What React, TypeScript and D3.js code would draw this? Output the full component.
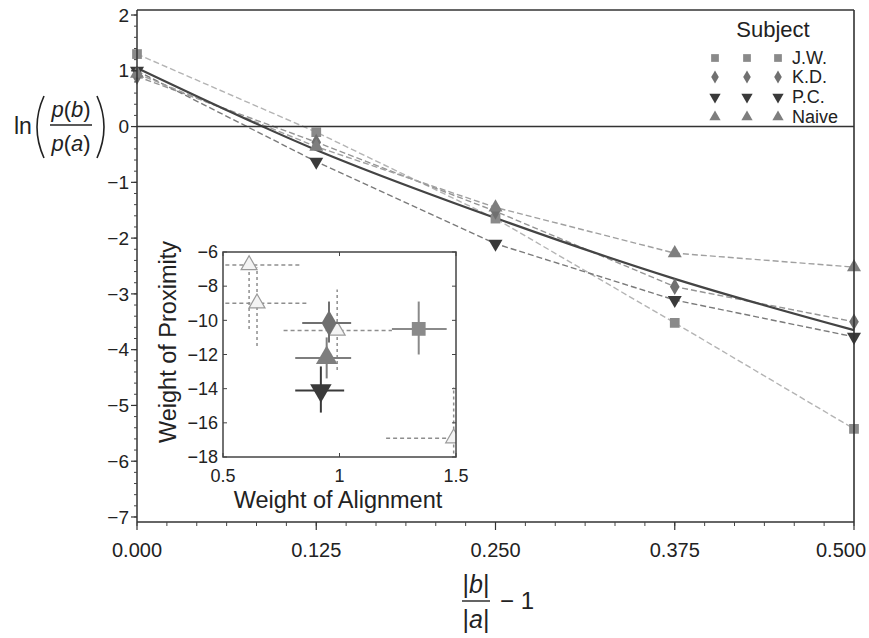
import React from "react";
import * as d3 from "d3";

// ---------- Data ----------
const xValues = [0, 0.125, 0.25, 0.375, 0.5];
const subjects = ["J.W.", "K.D.", "P.C.", "Naive"];
const jwValues = [1.3, -0.1, -1.65, -3.52, -5.42];
const kdValues = [0.9, -0.28, -1.52, -2.87, -3.5];
const pcValues = [1.0, -0.63, -2.1, -3.11, -3.77];
const naiveValues = [0.95, -0.36, -1.45, -2.27, -2.52];
const fitValues = [1.05, -0.42, -1.64, -2.73, -3.65];

const xTicks = [0, 0.125, 0.25, 0.375, 0.5];
const yTicks = [2, 1, 0, -1, -2, -3, -4, -5, -6, -7];

// inset (filled markers = subjects)
const insetAlign = [1.34, 0.955, 0.92, 0.945];
const insetProx = [-10.5, -10.16, -14.1, -12.2];
const insetAlignLo = [1.225, 0.84, 0.81, 0.81];
const insetAlignHi = [1.46, 1.05, 1.02, 1.05];
const insetProxLo = [-12.0, -11.3, -15.4, -13.4];
const insetProxHi = [-8.9, -8.9, -12.7, -11.0];

// inset open markers (dotted error bars)
const openAlign = [0.612, 0.646, 0.99, 1.49];
const openProx = [-6.76, -9.0, -10.6, -16.9];
const openAlignLo = [0.45, 0.45, 0.76, 1.2];
const openAlignHi = [0.84, 0.87, 1.225, 1.55];
const openProxLo = [-10.5, -11.5, -12.9, -18.5];
const openProxHi = [-6.4, -6.9, -8.2, -13.9];

const insetXTicks = [0.5, 1, 1.5];
const insetYTicks = [-6, -8, -10, -12, -14, -16, -18];

// ---------- Styles ----------
const FONT = "'Liberation Sans', Arial, Helvetica, sans-serif";
const markerColor = ["#8a8a8a", "#707070", "#3a3a3a", "#7e7e7e"];
const lineColor = ["#b4b4b4", "#959595", "#7a7a7a", "#a0a0a0"];
const symbolTypes = [d3.symbolSquare, d3.symbolDiamond, d3.symbolTriangle, d3.symbolTriangle];
const rotations = [0, 0, 180, 0];

const fmtNum = (v: number) => (v < 0 ? "\u2212" + Math.abs(v) : String(v));

export default function App() {
  const W = 869, H = 638;
  const x = d3.scaleLinear().domain([0, 0.5]).range([137, 854]);
  const y = d3.scaleLinear().domain([-7.09, 2.09]).range([522, 10]);
  const [x0, x1] = x.range();
  const [yb, yt] = y.range();

  const series = [jwValues, kdValues, pcValues, naiveValues];
  const line = d3.line<number>().x((_, i) => x(xValues[i])).y((d) => y(d));
  const fitLine = d3
    .line<number>()
    .x((_, i) => x(xValues[i]))
    .y((d) => y(d))
    .curve(d3.curveMonotoneX);

  const sym = (i: number, size: number) => d3.symbol().type(symbolTypes[i]).size(size)()!;
  const mainSizes = [95, 80, 85, 85];
  const legendSizes = [60, 50, 55, 55];
  const insetSizes = [190, 190, 200, 200];

  const yMinor = d3.range(-7, 2.001, 0.2);
  const xMinor = d3.range(0, 0.5001, 0.125 / 6);

  // inset scales
  const ix = d3.scaleLinear().domain([0.5, 1.5]).range([223, 456]);
  const iy = d3.scaleLinear().domain([-18, -6]).range([457, 252]);
  const [ix0, ix1] = ix.range();
  const [iyb, iyt] = iy.range();

  const legendX = [715, 747, 778];
  const legendY = [58, 77, 97, 117];

  return (
    <svg
      width={W}
      height={H}
      style={{ position: "absolute", left: 0, top: 0, background: "#fff" }}
      fontFamily={FONT}
    >
      <rect x={0} y={0} width={W} height={H} fill="#fff" />

      {/* main series dashed lines */}
      {series.map((s, i) => (
        <path
          key={"l" + i}
          d={line(s)!}
          fill="none"
          stroke={lineColor[i]}
          strokeWidth={1.4}
          strokeDasharray="6,3"
        />
      ))}
      {/* fit solid line */}
      <path d={fitLine(fitValues)!} fill="none" stroke="#444" strokeWidth={2.2} />

      {/* zero line */}
      <line x1={x0} x2={x1} y1={y(0)} y2={y(0)} stroke="#333" strokeWidth={1.6} />

      {/* markers */}
      {series.map((s, i) =>
        s.map((v, j) => (
          <path
            key={"m" + i + "-" + j}
            d={sym(i, mainSizes[i])}
            transform={`translate(${x(xValues[j])},${y(v)}) rotate(${rotations[i]})`}
            fill={markerColor[i]}
          />
        ))
      )}

      {/* frame */}
      <line x1={x0} x2={x1} y1={yt} y2={yt} stroke="#333" strokeWidth={1.5} />
      <line x1={x1} x2={x1} y1={yt} y2={yb} stroke="#333" strokeWidth={1.6} />
      <line x1={x0} x2={x0} y1={yt} y2={yb} stroke="#333" strokeWidth={1.5} />
      <line x1={x0} x2={x1} y1={yb} y2={yb} stroke="#333" strokeWidth={1.5} />

      {/* y ticks */}
      {yMinor.map((v, i) => (
        <line key={"ym" + i} x1={x0 - 3} x2={x0} y1={y(v)} y2={y(v)} stroke="#444" strokeWidth={1} />
      ))}
      {yTicks.map((v) => (
        <g key={"yt" + v}>
          <line x1={x0 - 6} x2={x0} y1={y(v)} y2={y(v)} stroke="#333" strokeWidth={1.2} />
          <text x={x0 - 8} y={y(v)} dy="0.35em" textAnchor="end" fontSize={19} fill="#222">
            {fmtNum(v)}
          </text>
        </g>
      ))}

      {/* x ticks */}
      {xMinor.map((v, i) => (
        <line key={"xm" + i} x1={x(v)} x2={x(v)} y1={yb} y2={yb + 4} stroke="#444" strokeWidth={1} />
      ))}
      {xTicks.map((v) => (
        <g key={"xt" + v}>
          <line x1={x(v)} x2={x(v)} y1={yb} y2={yb + 8} stroke="#333" strokeWidth={1.2} />
          <text
            x={Math.min(x(v), W - 28)}
            y={557}
            textAnchor="middle"
            fontSize={20}
            fill="#222"
          >
            {d3.format(".3f")(v)}
          </text>
        </g>
      ))}

      {/* y axis label: ln( p(b)/p(a) ) */}
      <text x={14} y={134} fontSize={23} fill="#222">ln</text>
      <path d="M44,96 Q30,127 44,158" fill="none" stroke="#222" strokeWidth={1.6} />
      <path d="M97,96 Q111,127 97,158" fill="none" stroke="#222" strokeWidth={1.6} />
      <text x={71} y={117} textAnchor="middle" fontSize={22} fill="#222">
        <tspan fontStyle="italic">p</tspan>(<tspan fontStyle="italic">b</tspan>)
      </text>
      <line x1={50} x2={92} y1={125} y2={125} stroke="#222" strokeWidth={1.4} />
      <text x={71} y={151} textAnchor="middle" fontSize={22} fill="#222">
        <tspan fontStyle="italic">p</tspan>(<tspan fontStyle="italic">a</tspan>)
      </text>

      {/* x axis label: |b|/|a| - 1 */}
      <text x={476} y={593} textAnchor="middle" fontSize={25} fill="#222">
        |<tspan fontStyle="italic">b</tspan>|
      </text>
      <line x1={462} x2={490} y1={601} y2={601} stroke="#222" strokeWidth={1.4} />
      <text x={476} y={628} textAnchor="middle" fontSize={25} fill="#222">
        |<tspan fontStyle="italic">a</tspan>|
      </text>
      <text x={500} y={609} fontSize={24} fill="#222">{"\u2212 1"}</text>

      {/* legend */}
      <text x={773} y={37} textAnchor="middle" fontSize={22} fill="#222">Subject</text>
      {subjects.map((s, i) => (
        <g key={"lg" + i}>
          {legendX.map((lx, k) => (
            <path
              key={k}
              d={sym(i, legendSizes[i])}
              transform={`translate(${lx},${legendY[i]}) rotate(${rotations[i]})`}
              fill={markerColor[i]}
            />
          ))}
          <text x={792} y={legendY[i]} dy="0.36em" fontSize={18} fill="#222">
            {s}
          </text>
        </g>
      ))}

      {/* ---------- inset ---------- */}
      <defs>
        <clipPath id="insetClip">
          <rect x={ix0} y={iyt} width={ix1 - ix0} height={iyb - iyt} />
        </clipPath>
      </defs>
      <g clipPath="url(#insetClip)">
        {openAlign.map((a, i) => (
          <g key={"o" + i}>
            <line
              x1={ix(openAlignLo[i])}
              x2={ix(openAlignHi[i])}
              y1={iy(openProx[i])}
              y2={iy(openProx[i])}
              stroke="#8e8e8e"
              strokeWidth={1.5}
              strokeDasharray="4,3"
            />
            <line
              x1={ix(a)}
              x2={ix(a)}
              y1={iy(openProxLo[i])}
              y2={iy(openProxHi[i])}
              stroke="#8e8e8e"
              strokeWidth={1.5}
              strokeDasharray="3,3"
            />
            <path
              d={d3.symbol().type(d3.symbolTriangle).size(110)()!}
              transform={`translate(${ix(a)},${iy(openProx[i])})`}
              fill="#f4f4f4"
              stroke="#9a9a9a"
              strokeWidth={1.2}
            />
          </g>
        ))}
        {insetAlign.map((a, i) => (
          <g key={"s" + i}>
            <line
              x1={ix(insetAlignLo[i])}
              x2={ix(insetAlignHi[i])}
              y1={iy(insetProx[i])}
              y2={iy(insetProx[i])}
              stroke={markerColor[i]}
              strokeWidth={2}
            />
            <line
              x1={ix(a)}
              x2={ix(a)}
              y1={iy(insetProxLo[i])}
              y2={iy(insetProxHi[i])}
              stroke={markerColor[i]}
              strokeWidth={2}
            />
            <path
              d={sym(i, insetSizes[i])}
              transform={`translate(${ix(a)},${iy(insetProx[i])}) rotate(${rotations[i]})`}
              fill={markerColor[i]}
            />
          </g>
        ))}
      </g>
      <rect
        x={ix0}
        y={iyt}
        width={ix1 - ix0}
        height={iyb - iyt}
        fill="none"
        stroke="#444"
        strokeWidth={1.5}
      />
      {insetYTicks.map((v) => (
        <g key={"iy" + v}>
          <line x1={ix0} x2={ix0 + 4} y1={iy(v)} y2={iy(v)} stroke="#444" />
          <line x1={ix1 - 4} x2={ix1} y1={iy(v)} y2={iy(v)} stroke="#444" />
          <text x={ix0 - 5} y={iy(v)} dy="0.35em" textAnchor="end" fontSize={18} fill="#222">
            {fmtNum(v)}
          </text>
        </g>
      ))}
      {insetXTicks.map((v) => (
        <g key={"ix" + v}>
          <line x1={ix(v)} x2={ix(v)} y1={iyb} y2={iyb - 4} stroke="#444" />
          <line x1={ix(v)} x2={ix(v)} y1={iyt} y2={iyt + 4} stroke="#444" />
          <text x={ix(v)} y={482} textAnchor="middle" fontSize={18} fill="#222">
            {String(v)}
          </text>
        </g>
      ))}
      <text x={338} y={508} textAnchor="middle" fontSize={23.5} fill="#222">
        Weight of Alignment
      </text>
      <text
        transform="translate(176,342) rotate(-90)"
        textAnchor="middle"
        fontSize={23.5}
        fill="#222"
      >
        Weight of Proximity
      </text>
    </svg>
  );
}
